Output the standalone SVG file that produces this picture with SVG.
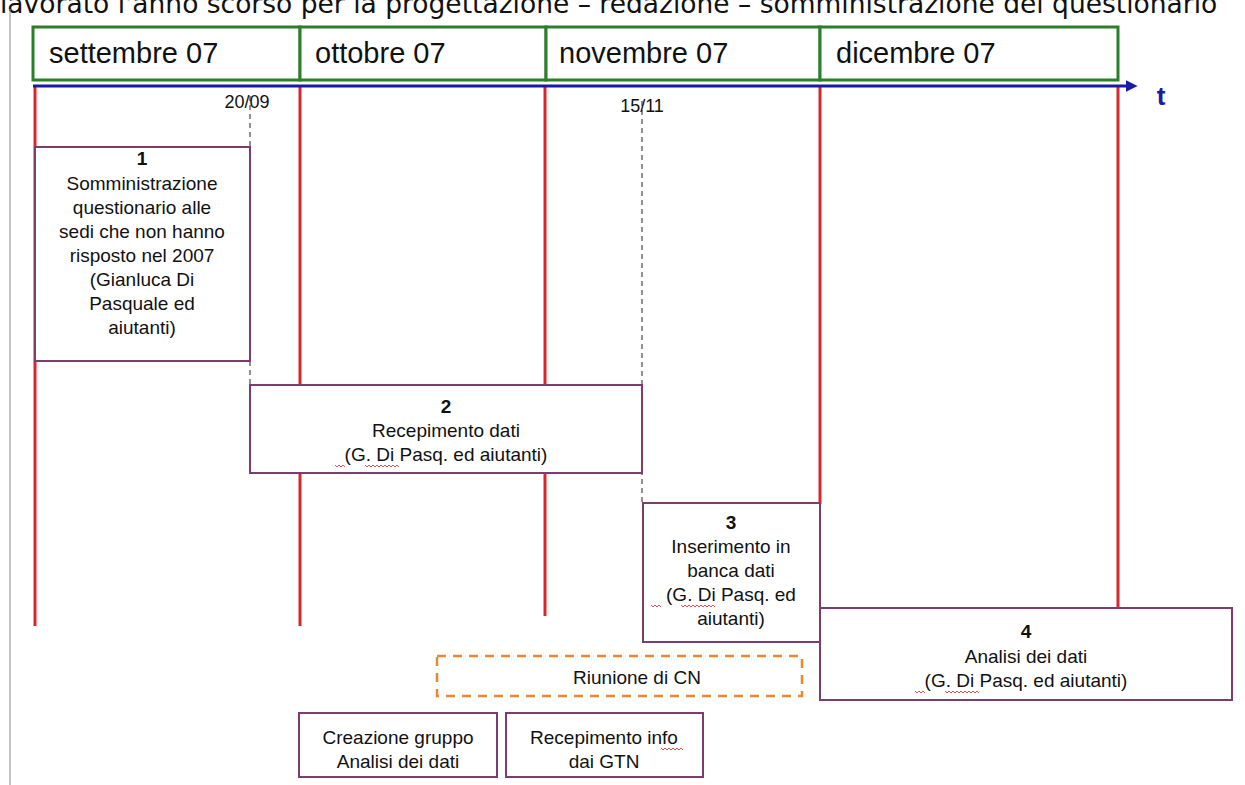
<svg xmlns="http://www.w3.org/2000/svg" width="1245" height="785" viewBox="0 0 1245 785">
<style>
.t{font-family:"Liberation Sans",Arial,sans-serif;font-size:19px;fill:#111;text-anchor:middle}
.b{font-weight:bold}
.m{font-family:"Liberation Sans",Arial,sans-serif;font-size:29px;fill:#111}
.box{fill:#fff;stroke:#7a3d6c;stroke-width:2}
.hdr{fill:#fff;stroke:#2b7f2b;stroke-width:3}
.red{stroke:#d8262c;stroke-width:3;fill:none}
.dash{stroke:#222;stroke-width:1;stroke-dasharray:5,4;fill:none}
.sq{stroke:#d8262c;stroke-width:0.8;fill:none}
</style>
<defs>
<marker id="arr" viewBox="0 0 10 10" refX="2" refY="5" markerWidth="4" markerHeight="4" orient="auto" markerUnits="strokeWidth">
<path d="M0,0 L10,5 L0,10 z" fill="#1a1aa8"/>
</marker>
</defs>
<rect width="1245" height="785" fill="#fff"/>
<text x="0" y="13" font-family="DejaVu Sans,sans-serif" font-size="26.5" fill="#111">lavorato l'anno scorso per la progettazione – redazione – somministrazione del questionario</text>
<line x1="10" y1="9" x2="10" y2="785" stroke="#888" stroke-width="1"/>

<g id="header">
<rect class="hdr" x="33" y="27" width="267" height="53"/>
<rect class="hdr" x="300" y="27" width="246" height="53"/>
<rect class="hdr" x="546" y="27" width="274" height="53"/>
<rect class="hdr" x="820" y="27" width="298" height="53"/>
<text class="m" x="49" y="63">settembre 07</text>
<text class="m" x="315" y="63">ottobre 07</text>
<text class="m" x="559" y="63">novembre 07</text>
<text class="m" x="836" y="63">dicembre 07</text>
</g>

<g id="connectors">
<line class="red" x1="35" y1="86" x2="35" y2="626"/>
<line class="red" x1="300" y1="86" x2="300" y2="626"/>
<line class="red" x1="545" y1="86" x2="545" y2="616"/>
<line class="red" x1="820" y1="86" x2="820" y2="504"/>
<line class="red" x1="1118" y1="86" x2="1118" y2="608"/>
<line x1="33" y1="86" x2="1128" y2="86" stroke="#1a1aa8" stroke-width="3" marker-end="url(#arr)"/>
<line class="dash" x1="250" y1="96" x2="250" y2="147"/>
<line class="dash" x1="250" y1="361" x2="250" y2="385"/>
<line class="dash" x1="642" y1="101" x2="642" y2="503"/>
</g>
<text x="1161" y="105" font-family="Liberation Sans,Arial,sans-serif" font-size="26" font-weight="bold" fill="#1a1aa8" text-anchor="middle">t</text>
<text class="t" x="247" y="108" style="font-size:18px">20/09</text>
<text class="t" x="642" y="112" style="font-size:18px">15/11</text>

<g id="n1">
<rect class="box" x="35" y="147" width="215" height="214"/>
<text class="t b" x="142" y="165">1</text>
<text class="t" x="142" y="190">Somministrazione</text>
<text class="t" x="142" y="214">questionario alle</text>
<text class="t" x="142" y="238">sedi che non hanno</text>
<text class="t" x="142" y="262">risposto nel 2007</text>
<text class="t" x="142" y="286">(Gianluca Di</text>
<text class="t" x="142" y="310">Pasquale ed</text>
<text class="t" x="142" y="334">aiutanti)</text>
</g>

<g id="n2">
<rect class="box" x="250" y="385" width="392" height="88"/>
<text class="t b" x="446" y="413">2</text>
<text class="t" x="446" y="437">Recepimento dati</text>
<text class="t" x="446" y="461">(G. Di Pasq. ed aiutanti)</text>
<path class="sq" d="M335,465 l2,2 l2,-2 l2,2 l2,-2 l2,2 M365,465 l2,2 l2,-2 l2,2 l2,-2 l2,2 l2,-2 l2,2 l2,-2 l2,2 l2,-2 l2,2 l2,-2 l2,2 l2,-2 l2,2 l2,-2 l2,2"/>
</g>

<g id="n3">
<rect class="box" x="643" y="503" width="177" height="139"/>
<text class="t b" x="731" y="529">3</text>
<text class="t" x="731" y="553">Inserimento in</text>
<text class="t" x="731" y="577">banca dati</text>
<text class="t" x="731" y="601">(G. Di Pasq. ed</text>
<text class="t" x="731" y="625">aiutanti)</text>
<path class="sq" d="M651,605 l2,2 l2,-2 l2,2 l2,-2 l2,2 M681,605 l2,2 l2,-2 l2,2 l2,-2 l2,2 l2,-2 l2,2 l2,-2 l2,2 l2,-2 l2,2 l2,-2 l2,2 l2,-2 l2,2 l2,-2 l2,2"/>
</g>

<g id="n4">
<rect class="box" x="820" y="608" width="412" height="92"/>
<text class="t b" x="1026" y="638">4</text>
<text class="t" x="1026" y="663">Analisi dei dati</text>
<text class="t" x="1026" y="687">(G. Di Pasq. ed aiutanti)</text>
<path class="sq" d="M915,691 l2,2 l2,-2 l2,2 l2,-2 l2,2 M945,691 l2,2 l2,-2 l2,2 l2,-2 l2,2 l2,-2 l2,2 l2,-2 l2,2 l2,-2 l2,2 l2,-2 l2,2 l2,-2 l2,2 l2,-2 l2,2"/>
</g>

<g id="n5">
<rect x="437" y="656" width="365" height="40" fill="none" stroke="#e8882f" stroke-width="2.5" stroke-dasharray="9,7"/>
<text class="t" x="637" y="684">Riunione di CN</text>
</g>

<g id="n6">
<rect class="box" x="299" y="713" width="198" height="64"/>
<text class="t" x="398" y="744">Creazione gruppo</text>
<text class="t" x="398" y="768">Analisi dei dati</text>
</g>

<g id="n7">
<rect class="box" x="506" y="713" width="197" height="64"/>
<text class="t" x="604" y="744">Recepimento info</text>
<text class="t" x="604" y="768">dai GTN</text>
<path class="sq" d="M661,748 l2,2 l2,-2 l2,2 l2,-2 l2,2 l2,-2 l2,2 l2,-2 l2,2 l2,-2 l2,2"/>
</g>
</svg>
